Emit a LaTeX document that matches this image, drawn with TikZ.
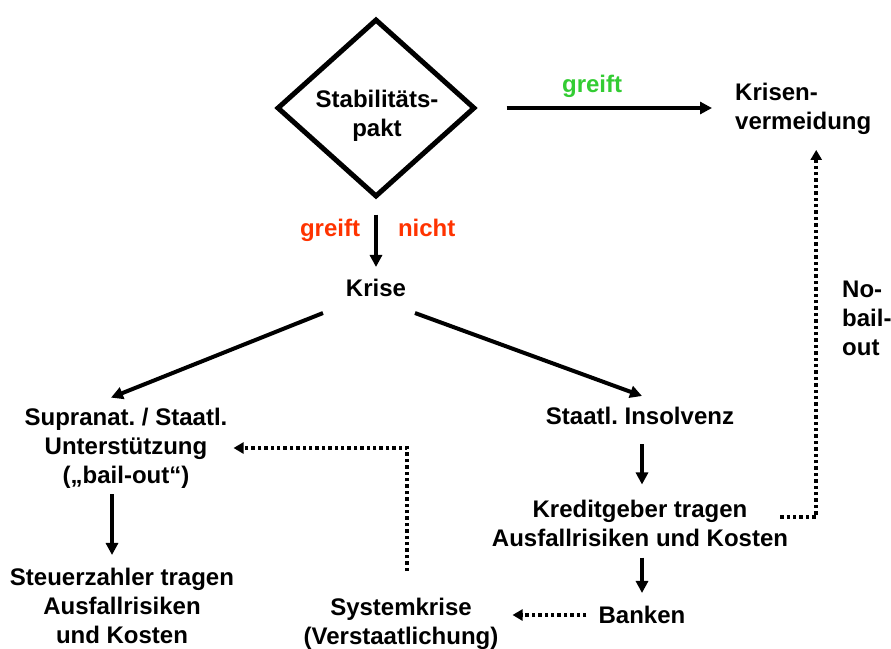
\documentclass[tikz,border=0pt]{standalone}
\usepackage{fontspec}
\setmainfont{Liberation Sans}
\frenchspacing
\usetikzlibrary{arrows.meta,shapes.geometric}

\definecolor{greifgruen}{RGB}{51,204,51}
\definecolor{greifrot}{RGB}{255,51,0}

\tikzset{
	txt/.style={font=\fontsize{24}{29}\selectfont\bfseries, align=center, inner sep=0pt},
	raute/.style={diamond, draw, line width=5pt, minimum width=198pt, minimum height=178pt, inner sep=0pt},
	pfeil/.style={line width=4pt, -{Triangle[length=12pt,width=12pt]}},
	punktpfeil/.style={line width=3.6pt, dash pattern=on 3.4pt off 3pt, -{Triangle[length=10pt,width=11pt]}},
}

\begin{document}
\begin{tikzpicture}[x=1pt, y=-1pt]
			%%%%% START %%%%%
			\useasboundingbox (0,0) rectangle (891,648);
			
			\node[raute] (pakt) at (376,108) {};
			\node[txt] (stab) at (377,116) {Stabilitäts-\\pakt};
			\node[txt, anchor=west, align=left] (verm) at (735,109) {Krisen-\\vermeidung};
			\node[txt] (krise) at (376,288) {Krise};
			
			\node[txt] (supra) at (126,448) {Supranat. / Staatl.\\Unterstützung\\(„bail-out“)};
			\node[txt] (steuer) at (122,606) {Steuerzahler tragen\\Ausfallrisiken\\und Kosten};
			
			\node[txt] (insolv) at (640,416) {Staatl. Insolvenz};
			\node[txt] (kredit) at (640,523) {Kreditgeber tragen\\Ausfallrisiken und Kosten};
			\node[txt] (banken) at (642,615) {Banken};
			\node[txt] (system) at (401,624) {Systemkrise\\(Verstaatlichung)};
			\node[txt, anchor=west, align=left] (nobail) at (842,318) {No-\\bail-\\out};
			
			\draw[pfeil, shorten <=29pt, shorten >=23pt] (pakt.east) -- node[txt, pos=0.445, above=8pt, text=greifgruen] (ja) {greift} (pakt.east -| verm.west);
			\draw[pfeil, shorten <=15pt, shorten >=12pt] (pakt.south) -- node[txt, pos=0.47, anchor=base east, xshift=-14pt, text=greifrot] (nein) {greift} node[txt, pos=0.47, anchor=base west, xshift=20pt, text=greifrot] (nicht) {nicht} (krise.north);
			
			\draw[pfeil] ([shift={(-53,16)}]krise.south) -- ([shift={(-15,-10)}]supra.north);
			\draw[pfeil] ([shift={(39,16)}]krise.south) -- ([shift={(2,-11)}]insolv.north);
			
			\draw[pfeil, shorten <=6pt, shorten >=13pt] ([xshift=-14pt]supra.south) -- ([xshift=-10pt]steuer.north);
			\draw[pfeil, shorten <=19pt, shorten >=15pt] ([xshift=2pt]insolv.south) -- ([xshift=2pt]kredit.north);
			\draw[pfeil, shorten <=11pt, shorten >=13pt] ([xshift=2pt]kredit.south) -- (banken.north);
			
			\draw[punktpfeil, shorten <=12pt, shorten >=14pt] (banken.west) -- (banken.west -| system.east);
			\draw[punktpfeil, shorten <=27pt, shorten >=6pt] ([xshift=6pt]system.north) |- (supra.east);
			\draw[punktpfeil, shorten >=15pt] ([shift={(-8,-6)}]kredit.east) -| ([xshift=13pt]verm.south);
			
			%%%%% END %%%%%
\end{tikzpicture}
\end{document}
